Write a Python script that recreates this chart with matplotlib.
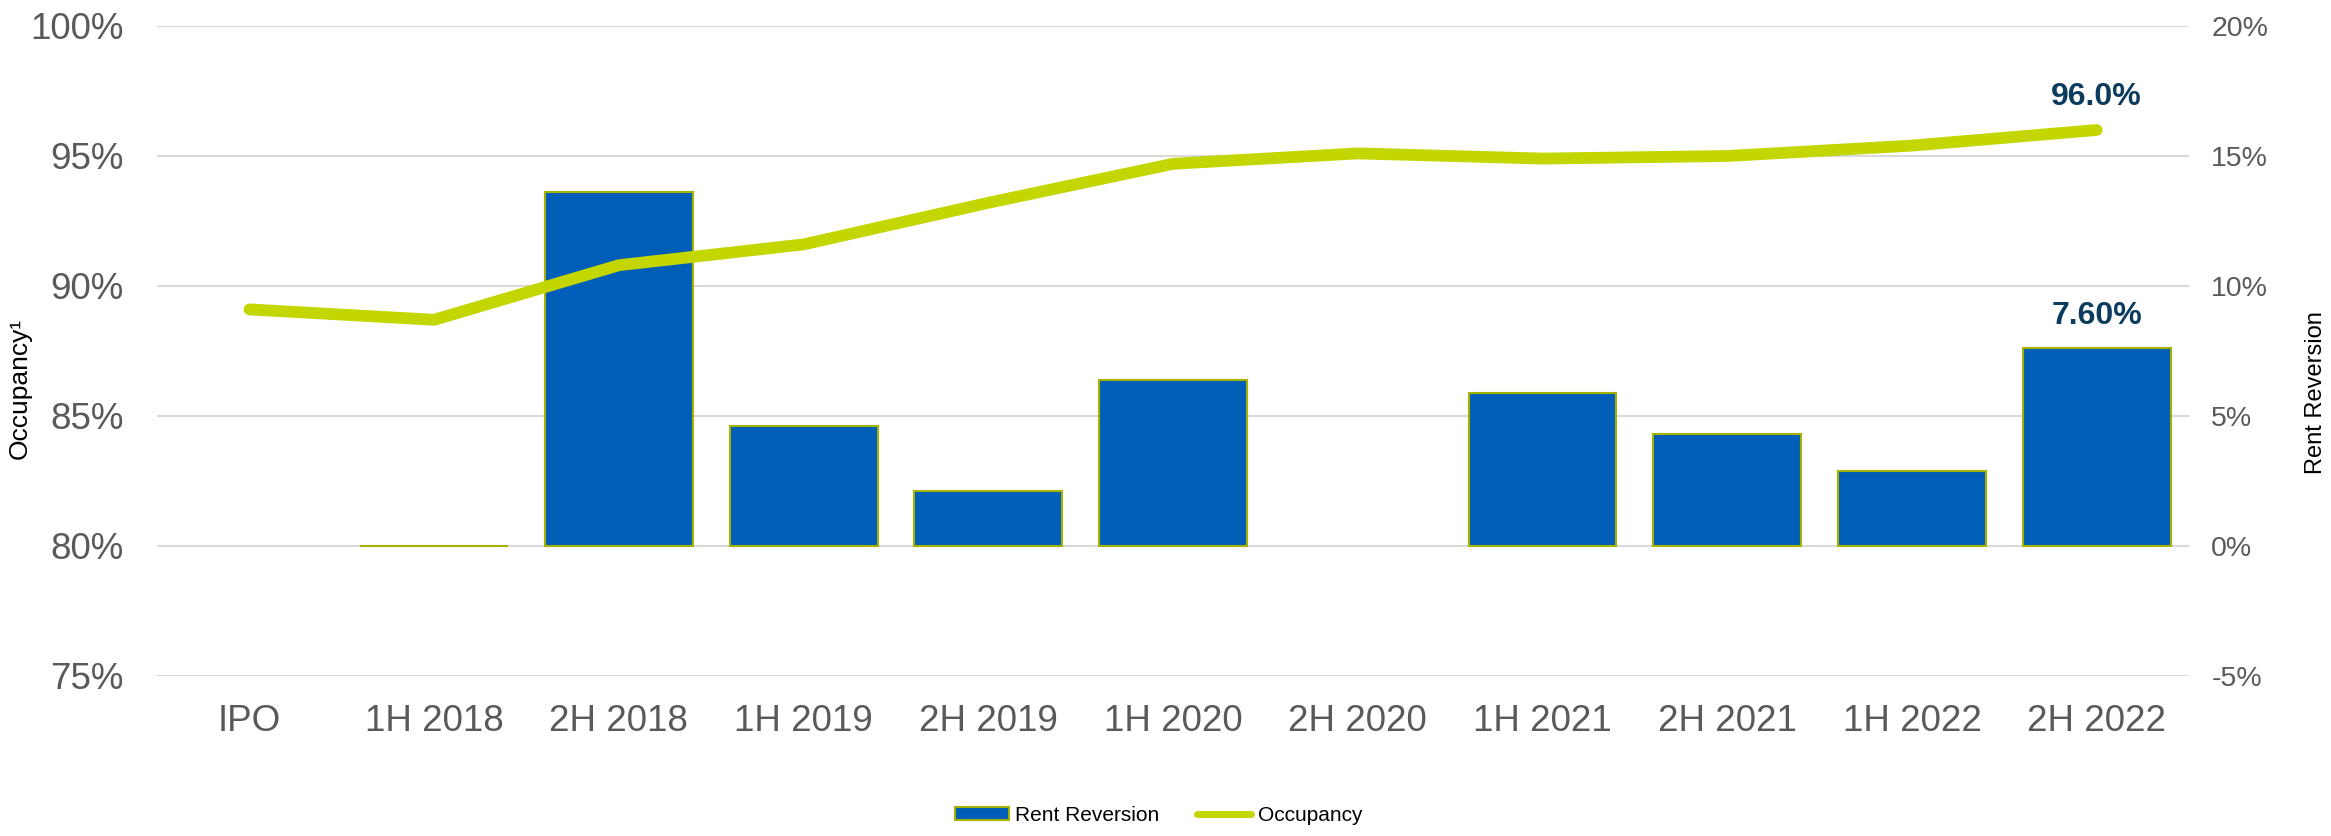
import numpy as np
import matplotlib
matplotlib.use("Agg")
import matplotlib.pyplot as plt
from matplotlib.patches import Patch
from matplotlib.lines import Line2D

# colours
BLUE = "#005EB8"
EDGE = "#A3B300"
LIME = "#C4D600"
NAVY = "#0B3C5D"
GREY = "#595959"
GRID = "#D9D9D9"

plt.rcParams["font.family"] = ["Liberation Sans", "DejaVu Sans"]

periods = ["IPO", "1H 2018", "2H 2018", "1H 2019", "2H 2019", "1H 2020",
           "2H 2020", "1H 2021", "2H 2021", "1H 2022", "2H 2022"]
rent_reversion = [np.nan, 0.0, 13.6, 4.6, 2.1, 6.4, np.nan, 5.9, 4.3, 2.9, 7.6]
occupancy = [89.1, 88.7, 90.8, 91.6, 93.2, 94.7, 95.1, 94.9, 95.0, 95.4, 96.0]

left_ticks = [75, 80, 85, 90, 95, 100]
right_ticks = [-5, 0, 5, 10, 15, 20]

fig = plt.figure(figsize=(23.31, 8.36), dpi=100)
fig.patch.set_facecolor("white")
ax = fig.add_axes([0.0674, 0.1914, 0.8717, 0.7775])
ax2 = ax.twinx()

x = np.arange(len(periods))

# bars on the secondary axis, gridlines behind them
ax2.set_axisbelow(True)
ax2.bar(x, rent_reversion, width=0.8, color=BLUE, edgecolor=EDGE, linewidth=1.5, zorder=2)
ax2.set_ylim(-5, 20)
ax2.set_yticks(right_ticks)
ax2.set_yticklabels([f"{t}%" for t in right_ticks])
ax2.yaxis.grid(True, color=GRID, linewidth=1.5, zorder=0)
ax2.tick_params(axis="y", length=0, pad=16, labelsize=20.5, labelcolor=GREY)

# occupancy line on top
ax.set_zorder(ax2.get_zorder() + 1)
ax.patch.set_visible(False)
ax.plot(x, occupancy, color=LIME, linewidth=8.5, solid_capstyle="round",
        solid_joinstyle="round")
ax.set_ylim(75, 100)
ax.set_yticks(left_ticks)
ax.set_yticklabels([f"{t}%" for t in left_ticks])
ax.set_xlim(-0.5, len(periods) - 0.5)
ax.set_xticks(x)
ax.set_xticklabels(periods)
ax.tick_params(axis="y", length=0, pad=24, labelsize=26.5, labelcolor=GREY)
ax.tick_params(axis="x", length=0, pad=20, labelsize=26.5, labelcolor=GREY)

for a in (ax, ax2):
    for s in a.spines.values():
        s.set_visible(False)

# value labels on the last period
last = len(periods) - 1
ax.annotate(f"{occupancy[last]:.1f}%", (x[last], occupancy[last]),
            xytext=(0, 24), textcoords="offset points", ha="center", va="center",
            fontsize=23, fontweight="bold", color=NAVY)
ax2.annotate(f"{rent_reversion[last]:.2f}%", (x[last], rent_reversion[last]),
             xytext=(0, 23), textcoords="offset points", ha="center", va="center",
             fontsize=23, fontweight="bold", color=NAVY)

fig.text(0.0085, 0.535, "Occupancy\u00b9", rotation=90, ha="center", va="center",
         fontsize=19, color="black")
fig.text(0.9935, 0.53, "Rent Reversion", rotation=90, ha="center", va="center",
         fontsize=17, color="black")

handles = [Patch(facecolor=BLUE, edgecolor=EDGE, linewidth=1.5),
           Line2D([0], [0], color=LIME, linewidth=5, solid_capstyle="round")]
fig.legend(handles, ["Rent Reversion", "Occupancy"], loc="center",
           bbox_to_anchor=(0.497, 0.025), ncol=2, frameon=False, fontsize=15,
           handlelength=2.6, handleheight=0.6, handletextpad=0.3, columnspacing=1.8)

fig.savefig("out.png", dpi=100, facecolor="white")
